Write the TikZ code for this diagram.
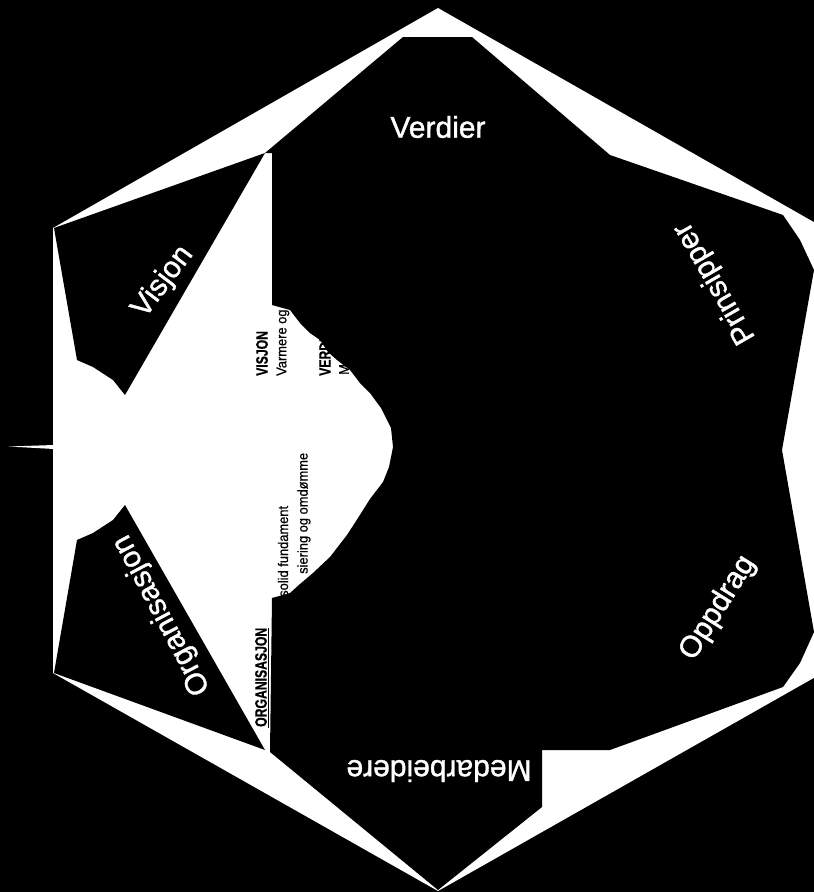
\documentclass[tikz,border=0pt]{standalone}
\usepackage{fontspec}
\setmainfont{Liberation Sans}
\newfontfamily\labelfont{Liberation Sans}[FakeBold=1.2]
\newfontfamily\smallfont{Liberation Sans}[FakeBold=0.6,FakeStretch=0.92]
\newfontfamily\condbold{Liberation Sans Bold}[FakeStretch=0.74,FakeBold=0.6]
\begin{document}
\begin{tikzpicture}[x=1pt,y=-1pt,
  big/.style={text=white,font=\labelfont\fontsize{30}{30}\selectfont,inner sep=0pt},
  small/.style={text=black,font=\smallfont\fontsize{14}{15}\selectfont,inner sep=0pt,rotate=90,anchor=west},
  head/.style={text=black,font=\condbold\fontsize{16.5}{17}\selectfont,inner sep=0pt,rotate=90,anchor=west}]
\useasboundingbox (0,0) rectangle (814,892);
\fill[black] (0,0) rectangle (814,892);
\begin{scope}
  \clip (0,0) rectangle (814,892);
  % outer white star hexagon
  \fill[white] (438,8) -- (826,229) -- (826,671) -- (438,891) -- (53,673) -- (53,228) -- cycle;
  % thin spike on the left
  \fill[white] (54,445) -- (9,446.5) -- (54,449) -- cycle;
\end{scope}
% small texts in the white field (partly hidden by the black field)
\node[head]  (visjonH) at (262,376) {VISJON};
\node[small] (visjonT) at (283,376) {Varmere og};
\node[head]  (verdiH)  at (325,376) {VERDIER};
\node[small] (verdiT)  at (344,375) {M};
\node[small] (orgT1)   at (283,597) {solid fundament};
\node[small] (orgT2)   at (304,574) {siering og omdømme};
\node[head]  (orgH)    at (261,727) {ORGANISASJON};
\draw[black,line width=1pt] (268,628) -- (268,728);
% black fields
\fill[black] (403,37) -- (472,37) -- (610,155) -- (783,215) -- (800,240) -- (814,270)
  -- (782,450) -- (814,632) -- (800,663) -- (783,687) -- (610,750) -- (542,750)
  -- (542,807) -- (438,890) -- (270,752) -- (272,598) -- (290,593) -- (300,584)
  -- (313,573) -- (330,557) -- (347,535) -- (358,518) -- (370,499) -- (383,482)
  -- (389,467) -- (393,447) -- (391,428) -- (381,408) -- (370,393) -- (360,383)
  -- (350,370) -- (337,360) -- (328,352) -- (320,340) -- (310,333) -- (300,323)
  -- (290,310) -- (272,305) -- (272,153) -- (265,153) -- cycle;
\fill[black] (54,228) -- (265,153) -- (125,395) -- (113,380) -- (93,367) -- (77,360) -- cycle;
\fill[black] (54,673) -- (265,750) -- (125,505) -- (113,520) -- (93,533) -- (77,540) -- cycle;
% white labels
\node[big]              (verdier)  at (438,127) {Verdier};
\node[big,rotate=53]    (visjon)   at (163,282) {Visjon};
\node[big,rotate=120]   (prins)    at (715,283) {Prinsipper};
\node[big,rotate=58]    (oppdrag)  at (718,608) {Oppdrag};
\node[big,rotate=180]   (medarb)   at (439,771) {Medarbeidere};
\node[big,rotate=118]   (org)      at (162,615) {Organisasjon};
\end{tikzpicture}
\end{document}
